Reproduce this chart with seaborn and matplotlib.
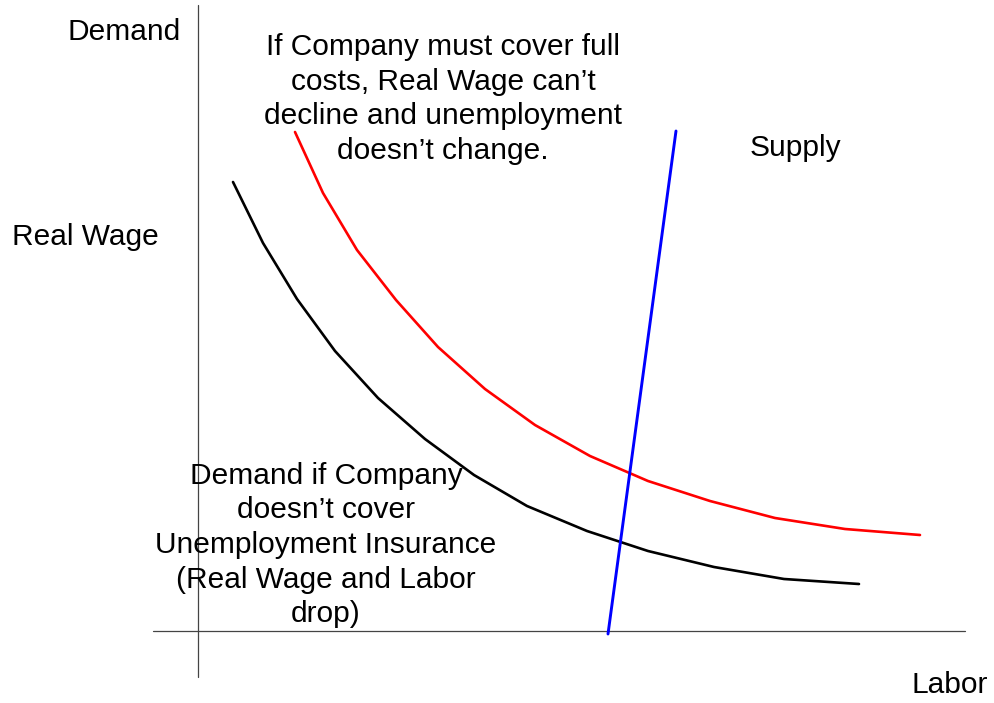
import matplotlib
matplotlib.use("Agg")
import matplotlib.pyplot as plt
import seaborn as sns
import pandas as pd

# curve values (labor, real wage)
demand_no_ui_labor = [35, 65, 99, 137, 180, 227, 276, 329, 389, 450, 516, 586, 661]
demand_no_ui_wage = [449, 388, 332, 280, 233, 192, 156, 125, 100, 80, 64, 52, 47]

demand_full_labor = [97, 125, 159, 198, 240, 287, 337, 392, 450, 512, 577, 647, 722]
demand_full_wage = [499, 438, 381, 331, 284, 242, 206, 175, 150, 130, 113, 102, 96]

supply_labor = [410, 478]
supply_wage = [-3, 500]

top_note = "If Company must cover full\ncosts, Real Wage can\u2019t\ndecline and unemployment\ndoesn\u2019t change."
bottom_note = "Demand if Company\ndoesn\u2019t cover\nUnemployment Insurance\n(Real Wage and Labor\ndrop)"

sns.set_style("white")
plt.rcParams["font.family"] = ["Liberation Sans", "DejaVu Sans"]
plt.rcParams["text.color"] = "black"

fig = plt.figure(figsize=(9.95, 7.03), dpi=100)
ax = fig.add_axes([0, 0, 1, 1])
ax.set_xlim(-198, 797)
ax.set_ylim(-72, 631)
ax.axis("off")

# axes of the diagram
ax.plot([0, 0], [-46, 626], color="#444444", lw=0.9)
ax.plot([-45, 767], [0, 0], color="#444444", lw=0.9)

no_ui = pd.DataFrame({"labor": demand_no_ui_labor, "wage": demand_no_ui_wage})
full = pd.DataFrame({"labor": demand_full_labor, "wage": demand_full_wage})
supply = pd.DataFrame({"labor": supply_labor, "wage": supply_wage})

sns.lineplot(data=no_ui, x="labor", y="wage", color="black", lw=1.9, sort=False, ax=ax)
sns.lineplot(data=full, x="labor", y="wage", color="#ff0000", lw=1.9, sort=False, ax=ax)
sns.lineplot(data=supply, x="labor", y="wage", color="#0000ff", lw=2.1, sort=False, ax=ax)

fs = 21.5
ax.text(-74, 599, "Demand", fontsize=fs, ha="center", va="center")
ax.text(-113, 394, "Real Wage", fontsize=fs, ha="center", va="center")
ax.text(597, 483, "Supply", fontsize=fs, ha="center", va="center")
ax.text(752, -54, "Labor", fontsize=fs, ha="center", va="center")
ax.text(245, 532, top_note, fontsize=fs, ha="center", va="center", linespacing=1.3)
ax.text(128, 86, bottom_note, fontsize=fs, ha="center", va="center", linespacing=1.3)

fig.savefig("out.png", dpi=100)
